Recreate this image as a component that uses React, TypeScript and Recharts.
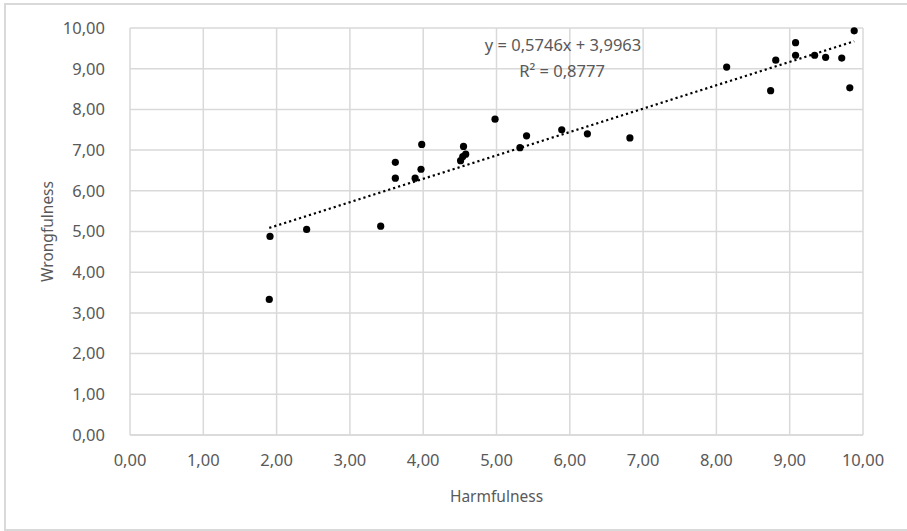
import { CartesianGrid, ReferenceLine, Scatter, ScatterChart, XAxis, YAxis } from "recharts"

// values
const harmfulness = [
  1.91, 1.9, 2.41, 3.42, 3.62, 3.62, 3.89, 3.97, 3.98, 4.55, 4.58, 4.54, 4.51, 4.98, 5.32,
  5.41, 5.89, 6.24, 6.82, 8.14, 8.74, 8.81, 9.08, 9.08, 9.34, 9.49, 9.71, 9.82, 9.88,
]
const wrongfulness = [
  4.88, 3.33, 5.05, 5.13, 6.7, 6.31, 6.31, 6.53, 7.14, 7.09, 6.9, 6.84, 6.74, 7.76, 7.06,
  7.35, 7.5, 7.4, 7.3, 9.04, 8.46, 9.21, 9.64, 9.33, 9.33, 9.28, 9.26, 8.53, 9.93,
]
const axisTicks = [0, 1, 2, 3, 4, 5, 6, 7, 8, 9, 10]

// linear trendline as printed on the chart
const slope = 0.5746
const intercept = 3.9963
const rSquared = 0.8777

const points = harmfulness.map((x, i) => ({ x, y: wrongfulness[i] }))
const xMin = Math.min(...harmfulness)
const xMax = Math.max(...harmfulness)
const trend = [
  { x: xMin, y: slope * xMin + intercept },
  { x: xMax, y: slope * xMax + intercept },
]

const fmt = (v: number) => v.toFixed(2).replace(".", ",")
const font = "'Noto Sans', sans-serif"
const textColor = "#595959"
const gridColor = "#d9d9d9"

export default function App() {
  return (
    <div style={{ position: "absolute", left: 0, top: 0, width: 907, height: 531, background: "#fff", overflow: "hidden" }}>
      <div
        style={{
          position: "absolute",
          left: 4,
          top: 3,
          width: 950,
          height: 528,
          border: `2px solid ${gridColor}`,
          boxSizing: "border-box",
        }}
      />
      <div style={{ position: "absolute", left: 0, top: 0 }}>
        <ScatterChart width={907} height={531} margin={{ top: 28, right: 44, bottom: 0, left: 0 }}>
          <CartesianGrid stroke={gridColor} strokeWidth={1.5} />
          <XAxis
            type="number"
            dataKey="x"
            domain={[0, 10]}
            ticks={axisTicks}
            tickFormatter={fmt}
            height={96}
            tickLine={false}
            axisLine={{ stroke: gridColor, strokeWidth: 1.5 }}
            tick={{ fill: textColor, fontSize: 16.5, fontFamily: font }}
            tickMargin={13}
            label={{
              value: "Harmfulness",
              position: "insideBottom",
              offset: 29,
              fill: textColor,
              fontSize: 15.5,
              fontFamily: font,
            }}
          />
          <YAxis
            type="number"
            dataKey="y"
            domain={[0, 10]}
            ticks={axisTicks}
            tickFormatter={fmt}
            width={130}
            tickLine={false}
            axisLine={false}
            tick={{ fill: textColor, fontSize: 16.5, fontFamily: font }}
            tickMargin={19}
            label={(props: any) => {
              const vb = props.viewBox
              const cy = vb.y + vb.height / 2
              return (
                <text
                  x={47}
                  y={cy}
                  transform={`rotate(-90, 47, ${cy})`}
                  textAnchor="middle"
                  dominantBaseline="central"
                  fill={textColor}
                  fontSize={15.5}
                  fontFamily={font}
                >
                  Wrongfulness
                </text>
              )
            }}
          />
          <Scatter data={points} fill="#000" isAnimationActive={false} shape={(p: any) => <circle cx={p.cx} cy={p.cy} r={3.6} fill="#000" />} />
          <ReferenceLine
            segment={trend}
            stroke="#000"
            strokeWidth={2.2}
            strokeDasharray="2.2 3"
            ifOverflow="visible"
          />
          <text x={563} y={51} textAnchor="middle" fill={textColor} fontSize={16.5} fontFamily={font}>
            {`y = ${String(slope).replace(".", ",")}x + ${String(intercept).replace(".", ",")}`}
          </text>
          <text x={562} y={77} textAnchor="middle" fill={textColor} fontSize={16.5} fontFamily={font}>
            {`R² = ${String(rSquared).replace(".", ",")}`}
          </text>
        </ScatterChart>
      </div>
    </div>
  )
}
